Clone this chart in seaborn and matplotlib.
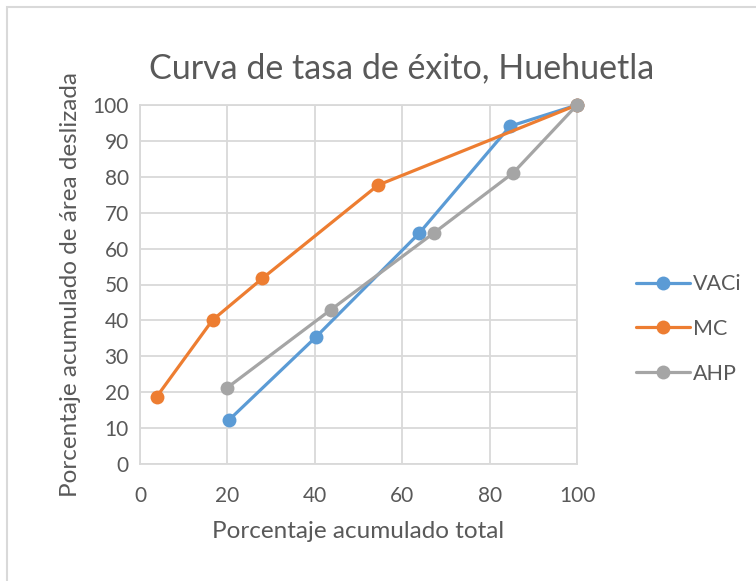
import matplotlib
matplotlib.use("Agg")
import matplotlib.pyplot as plt
import matplotlib.patches as mpatches
import seaborn as sns
import pandas as pd

# datos
vaci_x = [20.4, 40.2, 63.9, 84.7, 100]
vaci_y = [12.3, 35.3, 64.3, 94.1, 100]
mc_x = [3.8, 16.6, 28.0, 54.5, 100]
mc_y = [18.7, 40.1, 51.7, 77.7, 100]
ahp_x = [19.8, 43.6, 67.3, 85.4, 100]
ahp_y = [21.1, 42.9, 64.4, 81.1, 100]

series = ["VACi", "MC", "AHP"]
colores = ["#5B9BD5", "#ED7D31", "#A5A5A5"]
x_ticks = [0, 20, 40, 60, 80, 100]
y_ticks = list(range(0, 101, 10))

df = pd.concat([
    pd.DataFrame({"x": vaci_x, "y": vaci_y, "serie": "VACi"}),
    pd.DataFrame({"x": mc_x, "y": mc_y, "serie": "MC"}),
    pd.DataFrame({"x": ahp_x, "y": ahp_y, "serie": "AHP"}),
], ignore_index=True)

sns.set_style("white")
plt.rcParams["font.family"] = ["Lato", "DejaVu Sans"]
texto = "#595959"
rejilla = "#D9D9D9"

fig = plt.figure(figsize=(7.56, 5.81), dpi=100)
ax = fig.add_axes([140 / 756, 1 - 464 / 581, 437 / 756, 359 / 581])

sns.lineplot(data=df, x="x", y="y", hue="serie", hue_order=series,
             palette=colores, marker="o", markersize=10, markeredgewidth=0,
             linewidth=2.3, sort=False, ax=ax, zorder=3)
for ln in ax.lines:
    ln.set_clip_on(False)

ax.set_xlim(0, 100)
ax.set_ylim(0, 100)
ax.set_xticks(x_ticks)
ax.set_yticks(y_ticks)
ax.grid(True, color=rejilla, linewidth=1.3, zorder=0)
ax.set_axisbelow(True)
for s in ax.spines.values():
    s.set_visible(True)
    s.set_color(rejilla)
    s.set_linewidth(1.3)
ax.tick_params(axis="both", length=0, labelsize=15, labelcolor=texto)
ax.tick_params(axis="x", pad=16)
ax.tick_params(axis="y", pad=8)

ax.set_xlabel("Porcentaje acumulado total", fontsize=17.5, color=texto, labelpad=11)
ax.set_ylabel("Porcentaje acumulado de área deslizada", fontsize=17.5, color=texto, labelpad=8)

fig.text(402 / 756, 1 - 68 / 581, "Curva de tasa de éxito, Huehuetla",
         ha="center", va="center", fontsize=24.5, color=texto)

handles, labels = ax.get_legend_handles_labels()
ax.legend(handles, labels, loc="center left", bbox_to_anchor=(636 / 756, 1 - 329 / 581),
          bbox_transform=fig.transFigure, frameon=False, fontsize=15.5,
          labelcolor=texto, handlelength=2.5, handletextpad=0.15, labelspacing=1.15,
          borderpad=0, borderaxespad=0)

# marco exterior (solo borde izquierdo y superior visibles)
fig.patches.append(mpatches.Rectangle((7 / 756, -0.1), 2, 1.1 - 7 / 581,
                                      transform=fig.transFigure,
                                      fill=False, edgecolor=rejilla, linewidth=1.5))

fig.savefig("out.png", dpi=100)
plt.close(fig)
